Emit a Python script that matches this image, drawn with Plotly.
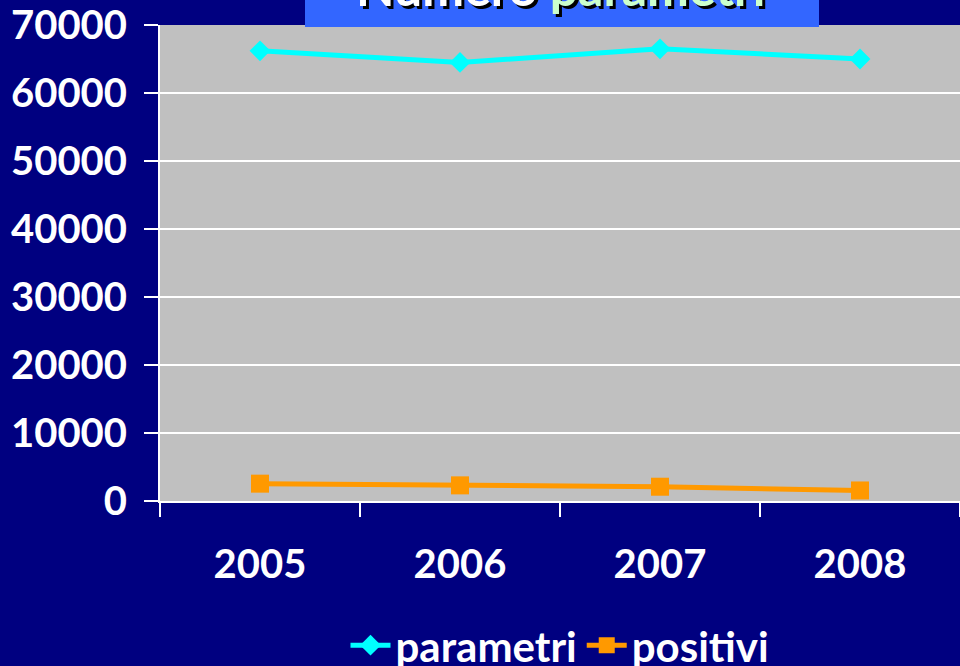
import plotly.graph_objects as go

years = ["2005", "2006", "2007", "2008"]
parametri = [66200, 64500, 66500, 65000]
positivi = [2550, 2300, 2100, 1550]
y_ticks = [0, 10000, 20000, 30000, 40000, 50000, 60000, 70000]

FONT = "Lato"
W, H = 960, 666
L, R, T, B = 160, 0, 25, 164.5
ph = H - T - B

def py(p):
    return (H - B - p) / ph

def px(p):
    return (p - L) / (W - L - R)

fig = go.Figure()
fig.add_trace(go.Scatter(x=years, y=parametri, name="parametri", mode="lines+markers",
                         line=dict(color="#00FFFF", width=5),
                         marker=dict(symbol="diamond", size=16, color="#00FFFF")))
fig.add_trace(go.Scatter(x=years, y=positivi, name="positivi", mode="lines+markers",
                         line=dict(color="#FF9900", width=5),
                         marker=dict(symbol="square", size=18, color="#FF9900")))

fig.update_layout(
    width=W, height=H,
    margin=dict(l=L, r=R, t=T, b=B, pad=0, autoexpand=False),
    paper_bgcolor="#000080",
    plot_bgcolor="#C0C0C0",
    font=dict(family=FONT, color="white"),
    showlegend=True,
    legend=dict(orientation="h", x=0.5, xanchor="center", y=py(646), yanchor="middle",
                font=dict(family=FONT, size=42, color="white", weight="bold"),
                bgcolor="rgba(0,0,0,0)", itemwidth=40),
    xaxis=dict(type="category", range=[-0.5, 3.5], tickson="boundaries",
               ticks="outside", ticklen=14, tickwidth=2, tickcolor="white",
               showline=True, linecolor="white", linewidth=2, showgrid=False,
               tickfont=dict(family=FONT, size=40, color="white", weight="bold"),
               ticklabelstandoff=27, zeroline=False, automargin=False),
    yaxis=dict(range=[0, 70000], tickvals=y_ticks, ticktext=[str(v) for v in y_ticks],
               ticks="outside", ticklen=14, tickwidth=2, tickcolor="white",
               showline=True, linecolor="white", linewidth=2,
               showgrid=True, gridcolor="white", gridwidth=1.5, zeroline=False,
               tickfont=dict(family=FONT, size=40, color="white", weight="bold"),
               ticklabelstandoff=9, automargin=False),
)

fig.add_shape(type="rect", xref="paper", yref="paper",
              x0=px(305), x1=px(819), y0=py(27), y1=py(-5),
              fillcolor="#3366FF", line=dict(width=0), layer="above")

title_html = "Numero <span style='color:#CCFFCC'>parametri</span>"
shadow_html = "Numero parametri"
for dx, dy, txt, col in [(3, -3, shadow_html, "black"), (0, 0, title_html, "white")]:
    fig.add_annotation(xref="paper", yref="paper", x=px(560), y=py(-13),
                       xanchor="center", yanchor="middle", showarrow=False,
                       xshift=dx, yshift=dy, text=txt,
                       font=dict(family=FONT, size=50, color=col, weight="bold"))

fig.write_html("out.html", config={"displayModeBar": False},
               post_script="document.body.style.margin='0';document.body.style.overflow='hidden';")
